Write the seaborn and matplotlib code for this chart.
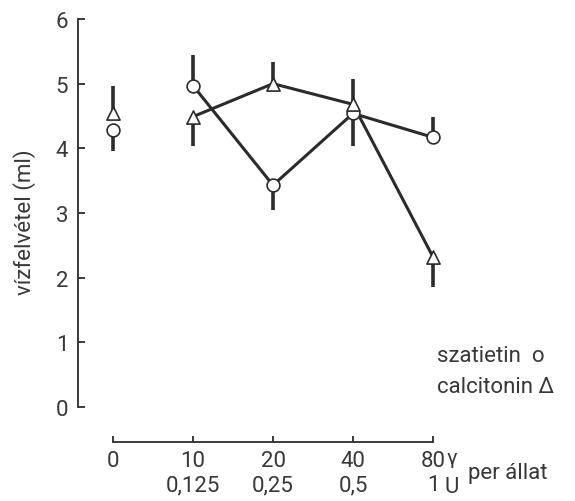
import matplotlib
matplotlib.use("Agg")
import matplotlib.pyplot as plt
import seaborn as sns
import numpy as np

# dose categories (gamma per animal and units)
doses = ["0", "10", "20", "40", "80"]
units = ["", "0,125", "0,25", "0,5", "1"]
positions = np.arange(len(doses))

# water intake (ml)
szatietin = [4.28, 4.97, 3.43, 4.54, 4.17]
szatietin_bar = [3.96, 5.45, 3.05, 4.03, 4.48]   # end of the one-sided error bar
calcitonin = [4.54, 4.49, 5.00, 4.68, 2.32]
calcitonin_bar = [4.97, 4.03, 5.33, 5.07, 1.86]

ink = "#2b2b2b"
txt = "#383838"

sns.set_style("ticks")
plt.rcParams['font.family'] = ['Roboto', 'DejaVu Sans']
plt.rcParams['text.color'] = txt
plt.rcParams['xtick.color'] = ink
plt.rcParams['ytick.color'] = ink
plt.rcParams['xtick.labelcolor'] = txt
plt.rcParams['ytick.labelcolor'] = txt

fig = plt.figure(figsize=(5.75, 5.02), dpi=100)
ax = fig.add_axes([78/575, 94/502, 497/575, 388/502])

# connecting lines (treated groups only, control stands alone)
sns.lineplot(x=positions[1:], y=szatietin[1:], color=ink, lw=2.2, ax=ax, zorder=2)
sns.lineplot(x=positions[1:], y=calcitonin[1:], color=ink, lw=2.2, ax=ax, zorder=2)

# one-sided error bars
ax.vlines(positions, szatietin, szatietin_bar, color=ink, lw=2.6, zorder=3)
ax.vlines(positions, calcitonin, calcitonin_bar, color=ink, lw=2.6, zorder=3)

sns.scatterplot(x=positions, y=szatietin, marker='o', s=85, facecolor='white',
                edgecolor=ink, linewidth=1.2, ax=ax, zorder=4)
sns.scatterplot(x=positions, y=calcitonin, marker='^', s=90, facecolor='white',
                edgecolor=ink, linewidth=1.2, ax=ax, zorder=4)

ax.set_xlim(-0.4375, 5.775)
ax.set_ylim(0, 6)

ax.spines['top'].set_visible(False)
ax.spines['right'].set_visible(False)
ax.spines['left'].set_bounds(0, 6)
ax.spines['left'].set_color(ink)
ax.spines['left'].set_linewidth(1.3)
ax.spines['bottom'].set_position(('outward', 25))
ax.spines['bottom'].set_bounds(0, 4)
ax.spines['bottom'].set_color(ink)
ax.spines['bottom'].set_linewidth(1.3)

ax.set_yticks(range(7))
ax.set_yticklabels([str(v) for v in range(7)], fontsize=16)
ax.tick_params(axis='y', direction='in', length=5, width=1.3, pad=7)

ax.set_xticks(positions)
ax.set_xticklabels([d + ("\n" + u if u else "") for d, u in zip(doses, units)],
                   fontsize=16, linespacing=1.2)
ax.tick_params(axis='x', direction='in', length=4, width=1.3, pad=6)

ax.set_xlabel("")
ax.set_ylabel("")

# unit markers after the last tick
fig.text(452/575, 1 - 459/502, "γ", fontsize=15, ha='center', va='center')
fig.text(452/575, 1 - 488/502, "U", fontsize=16, ha='center', va='center')
fig.text(468/575, 1 - 474/502, "per állat", fontsize=16, ha='left', va='center')

# y axis title
fig.text(25/575, 1 - 222/502, "vízfelvétel (ml)", fontsize=16, rotation=90,
         ha='center', va='center')

# legend as plain text
ax.text(4.05, 0.79, "szatietin  o", fontsize=16, ha='left', va='center')
ax.text(4.05, 0.31, "calcitonin Δ", fontsize=16, ha='left', va='center')

fig.savefig("out.png", dpi=100, facecolor='white')
